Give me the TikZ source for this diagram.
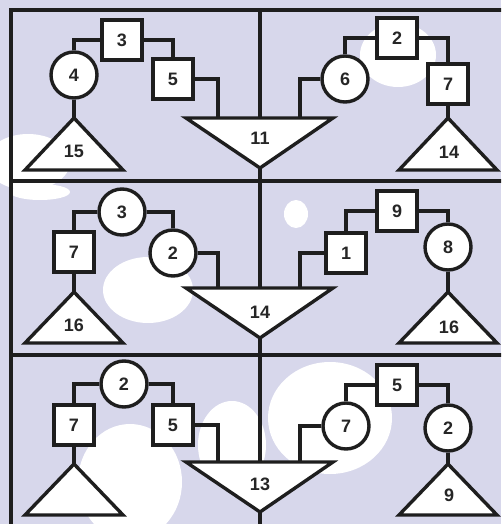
\documentclass[tikz,border=0pt]{standalone}
\usepackage{fontspec}
\setmainfont{Liberation Sans}
\usetikzlibrary{positioning}
\definecolor{lavbg}{HTML}{D7D7EB}
\definecolor{ink}{HTML}{1E1E1E}

\begin{document}
\begin{tikzpicture}[x=1pt, y=-1pt, line width=3.4pt, ink,
  every node/.style={font=\bfseries\fontsize{18}{18}\selectfont, text=black!85, inner sep=0pt},
  sq/.style={draw, fill=white, rectangle, minimum size=40pt},
  ci/.style={draw, fill=white, circle, minimum size=46pt},
  tri/.style={draw, fill=white, line join=miter},
  blob/.style={fill=white, draw=none}]
\useasboundingbox (0,0) rectangle (501,524);
\clip (0,0) rectangle (501,524);
% background with faded blobs
\fill[lavbg] (0,0) rectangle (501,524);
\fill[blob] (148,290) ellipse (45 and 33);
\fill[blob] (398,55) ellipse (38 and 32);
\fill[blob] (28,162) ellipse (42 and 28);
\fill[blob] (130,482) ellipse (52 and 58);
\fill[blob] (232,445) ellipse (34 and 44);
\fill[blob] (330,418) ellipse (62 and 56);
\fill[blob] (296,214) ellipse (12 and 14);
\fill[blob] (40,192) ellipse (30 and 8);

% frame
\draw[line width=3.8pt] (11,530) -- (11,10) -- (510,10);
\draw[line width=3.8pt] (11,181) -- (510,181);
\draw[line width=3.8pt] (11,355) -- (510,355);

% central triangles
\coordinate (d11top) at (260,118);
\coordinate (d14top) at (260,288);
\coordinate (d13top) at (260,462);
\draw (260,10) -- (d11top);
\draw[tri] (186,118) -- (333,118) -- (260,168) coordinate (d11) -- cycle;
\node (n11) at (260,138) {11};
\draw (d11) -- (d14top);
\draw[tri] (186,288) -- (333,288) -- (260,338) coordinate (d14) -- cycle;
\node (n14) at (260,312) {14};
\draw (d14) -- (d13top);
\draw[tri] (186,462) -- (333,462) -- (260,512) coordinate (d13) -- cycle;
\node (n13) at (260,484) {13};
\draw (d13) -- (260,530);
\coordinate (d11a) at (218,118);
\coordinate (d11b) at (300,118);
\coordinate (d14a) at (218,288);
\coordinate (d14b) at (300,288);
\coordinate (d13a) at (218,462);
\coordinate (d13b) at (300,462);

% panel 1, left
\node[sq] (s3) at (122,40) {3};
\node[ci] (c4) at (74,75) {4};
\node[sq] (s5) at (173,79) {5};
\draw[tri] (74,118) coordinate (u15) -- (123,170) -- (25,170) -- cycle;
\node (n15) at (74,151) {15};
\draw (c4.north) |- (s3.west);
\draw (s3.east) -| (s5.north);
\draw (s5.east) -| (d11a);
\draw (c4.south) -- (u15);

% panel 1, right
\node[sq] (s2) at (397,38) {2};
\node[ci] (c6) at (345,79) {6};
\node[sq] (s7a) at (448,84) {7};
\draw[tri] (448,118) coordinate (u14) -- (497,170) -- (399,170) -- cycle;
\node (n14a) at (449,152) {14};
\draw (c6.north) |- (s2.west);
\draw (s2.east) -| (s7a.north);
\draw (c6.west) -| (d11b);
\draw (s7a.south) -- (u14);

% panel 2, left
\node[ci] (c3) at (122,212) {3};
\node[sq] (s7) at (74,252) {7};
\node[ci] (c2) at (173,253) {2};
\draw[tri] (74,292) coordinate (u16) -- (123,343) -- (25,343) -- cycle;
\node (n16) at (74,325) {16};
\draw (c3.west) -| (s7.north);
\draw (c3.east) -| (c2.north);
\draw (c2.east) -| (d14a);
\draw (s7.south) -- (u16);

% panel 2, right
\node[sq] (s9) at (397,211) {9};
\node[sq] (s1) at (346,253) {1};
\node[ci] (c8) at (448,247) {8};
\draw[tri] (448,292) coordinate (u16b) -- (497,343) -- (399,343) -- cycle;
\node (n16b) at (449,327) {16};
\draw (s9.west) -| (s1.north);
\draw (s9.east) -| (c8.north);
\draw (s1.west) -| (d14b);
\draw (c8.south) -- (u16b);

% panel 3, left
\node[ci] (c2b) at (124,384) {2};
\node[sq] (s7b) at (74,425) {7};
\node[sq] (s5b) at (173,425) {5};
\draw[tri] (74,464) coordinate (u0) -- (123,515) -- (25,515) -- cycle;
\draw (c2b.west) -| (s7b.north);
\draw (c2b.east) -| (s5b.north);
\draw (s5b.east) -| (d13a);
\draw (s7b.south) -- (u0);

% panel 3, right
\node[sq] (s5c) at (397,385) {5};
\node[ci] (c7) at (346,426) {7};
\node[ci] (c2c) at (448,428) {2};
\draw[tri] (448,464) coordinate (u9) -- (497,515) -- (399,515) -- cycle;
\node (n9) at (449,495) {9};
\draw (s5c.west) -| (c7.north);
\draw (s5c.east) -| (c2c.north);
\draw (c7.west) -| (d13b);
\draw (c2c.south) -- (u9);
\end{tikzpicture}
\end{document}
